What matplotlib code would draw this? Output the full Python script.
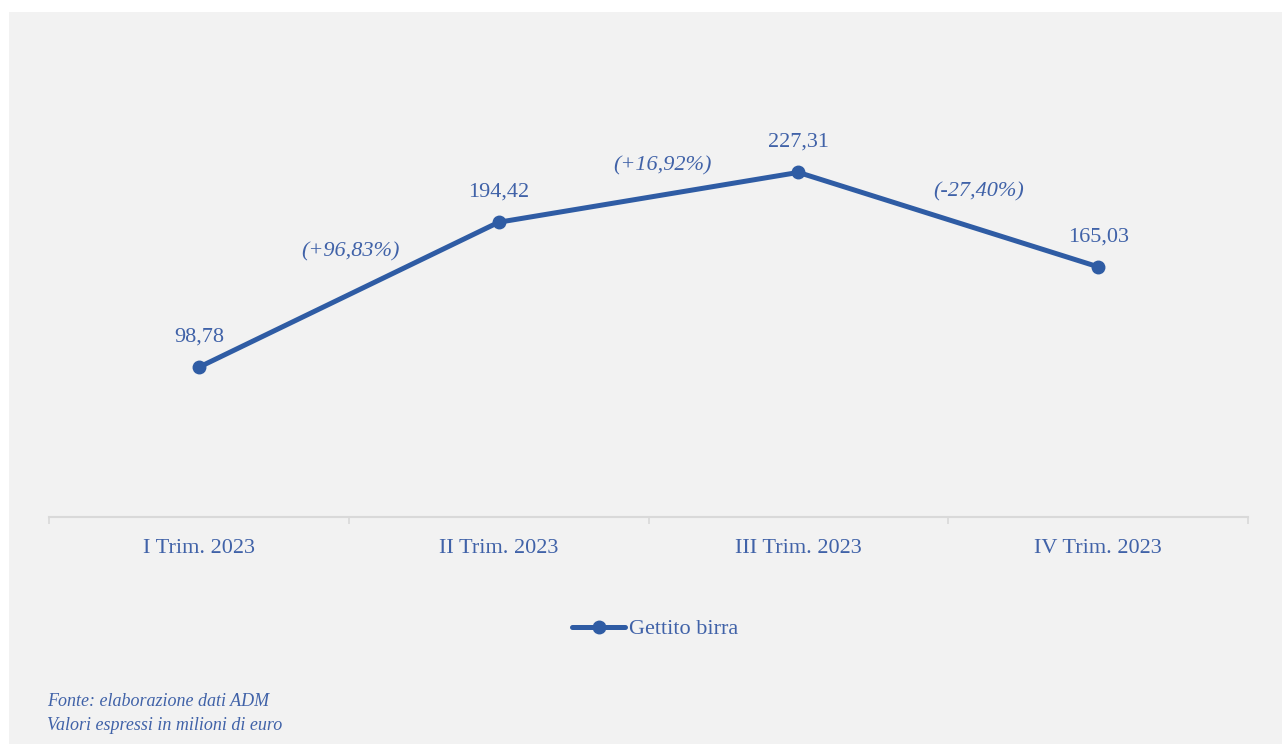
import matplotlib.pyplot as plt
from matplotlib.patches import Rectangle
from matplotlib.lines import Line2D

quarters = ['I Trim. 2023', 'II Trim. 2023', 'III Trim. 2023', 'IV Trim. 2023']
gettito = [98.78, 194.42, 227.31, 165.03]
value_labels = ['98,78', '194,42', '227,31', '165,03']
change_labels = ['(+96,83%)', '(+16,92%)', '(-27,40%)']

LINE_COLOR = '#2F5CA4'
TEXT_COLOR = '#4062A8'
AXIS_COLOR = '#D9D9D9'
BG_COLOR = '#F2F2F2'

plt.rcParams['font.family'] = ['Liberation Serif', 'DejaVu Serif']

W, H = 1282, 744
fig = plt.figure(figsize=(W / 100, H / 100), dpi=100, facecolor='white')
fig.patches.append(Rectangle((9 / W, 0), 1 - 9 / W, 1 - 12 / H,
                             transform=fig.transFigure, facecolor=BG_COLOR,
                             edgecolor='none', zorder=-5))

# axes: x from 49 to 1248 px, y=0 at 517 px, 1.516 px per unit
ymax = 300
ax = fig.add_axes([49 / W, (H - 517) / H, 1199 / W, ymax * 1.516 / H])
ax.set_facecolor('none')
x = list(range(len(quarters)))
ax.plot(x, gettito, color=LINE_COLOR, lw=3.6, marker='o', ms=9,
        solid_capstyle='round', zorder=3)
ax.set_xlim(-0.5, len(quarters) - 0.5)
ax.set_ylim(0, ymax)

for s in ['top', 'right', 'left']:
    ax.spines[s].set_visible(False)
ax.spines['bottom'].set_color(AXIS_COLOR)
ax.spines['bottom'].set_linewidth(1.5)
ax.set_yticks([])
ax.set_xticks(x)
ax.set_xticklabels(quarters, fontsize=16, color=TEXT_COLOR)
ax.tick_params(axis='x', which='major', length=0, pad=16)
ax.set_xticks([i - 0.5 for i in range(len(quarters) + 1)], minor=True)
ax.tick_params(axis='x', which='minor', length=5, width=1.2, color=AXIS_COLOR)

for xi, yi, lab in zip(x, gettito, value_labels):
    ax.annotate(lab, (xi, yi), xytext=(0, 30), textcoords='offset pixels',
                ha='center', va='center', fontsize=16, color=TEXT_COLOR)

change_offsets = [(2, -43), (14, -31), (30, -28)]
for i, lab in enumerate(change_labels):
    mx = (x[i] + x[i + 1]) / 2
    my = (gettito[i] + gettito[i + 1]) / 2
    dx, dy = change_offsets[i]
    ax.annotate(lab, (mx, my), xytext=(dx, -dy), textcoords='offset pixels',
                ha='center', va='center', fontsize=16, style='italic',
                color=TEXT_COLOR)

handle = Line2D([], [], color=LINE_COLOR, lw=3.6, marker='o', ms=9,
                solid_capstyle='round')
fig.legend([handle], ['Gettito birra'], loc='center',
           bbox_to_anchor=(655 / W, 1 - 629 / H), frameon=False,
           fontsize=16, labelcolor=TEXT_COLOR, handlelength=2.4,
           handletextpad=0.15)

fig.text(47 / W, 1 - 701 / H, 'Fonte: elaborazione dati ADM', fontsize=13,
         style='italic', color=TEXT_COLOR, va='center')
fig.text(47 / W, 1 - 725 / H, 'Valori espressi in milioni di euro',
         fontsize=13, style='italic', color=TEXT_COLOR, va='center')

fig.savefig('out.png', dpi=100, facecolor=fig.get_facecolor())
